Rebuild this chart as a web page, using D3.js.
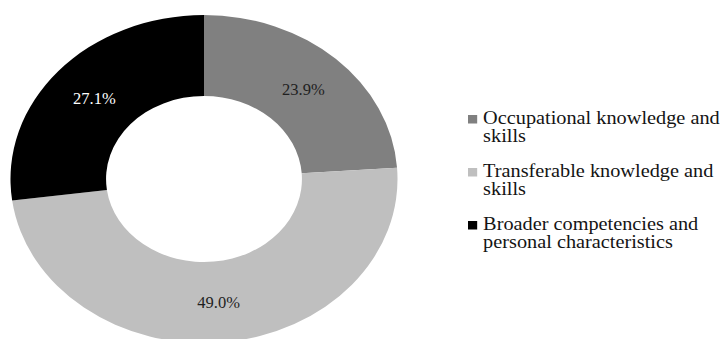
<!DOCTYPE html>
<html>
<head>
<meta charset="utf-8">
<script src="https://cdn.jsdelivr.net/npm/d3@7"></script>
<style>
  body { margin: 0; background: #fff; }
  text { font-family: "Liberation Serif", "Times New Roman", serif; }
</style>
</head>
<body>
<div class="content"></div>
<script>
const categories = ["Occupational knowledge and skills", "Transferable knowledge and skills", "Broader competencies and personal characteristics"];
const legendLines = [["Occupational knowledge and", "skills"], ["Transferable knowledge and", "skills"], ["Broader competencies and", "personal characteristics"]];
const values = [23.9, 49.0, 27.1];

const width = 725, height = 339;
const stretch = 1.18; // the source picture is wider than tall
const outerR = 164, innerR = 83;
const cx = 204, cy = 179;

const svg = d3.select('.content')
    .append('svg')
    .attr('width', width)
    .attr('height', height);

const color = d3.scaleOrdinal()
    .domain(categories)
    .range(["#808080", "#bfbfbf", "#000000"]);

const labelColor = d3.scaleOrdinal()
    .domain(categories)
    .range(["#1f1f1f", "#1f1f1f", "#ffffff"]);

const data = categories.map((c, i) => ({ cat: c, value: values[i], lines: legendLines[i] }));

const pie = d3.pie().sort(null).value(d => d.value);
const arc = d3.arc().innerRadius(innerR).outerRadius(outerR);

const donut = svg.append("g")
    .attr("transform", `translate(${cx},${cy}) scale(${stretch},1)`);

donut.selectAll(".slice")
    .data(pie(data))
    .enter().append("path")
    .attr("class", "slice")
    .attr("d", arc)
    .attr("fill", d => color(d.data.cat));

// labels outside the stretched group so the text keeps its own width
svg.selectAll(".lbl")
    .data(pie(data))
    .enter().append("text")
    .attr("class", "lbl")
    .attr("x", d => cx + arc.centroid(d)[0] * stretch)
    .attr("y", d => cy + arc.centroid(d)[1])
    .attr("dy", "0.38em")
    .attr("text-anchor", "middle")
    .attr("font-size", 16.5)
    .attr("fill", d => labelColor(d.data.cat))
    .text(d => d.data.value.toFixed(1) + "%");

// legend
const legStretch = 1.08;
const legend = svg.append("g")
    .attr("transform", `translate(468,0) scale(${legStretch},1)`);

const item = legend.selectAll(".item")
    .data(data)
    .enter().append("g")
    .attr("class", "item")
    .attr("transform", (d, i) => `translate(0,${124 + i * 53})`);

item.append("rect")
    .attr("x", 0)
    .attr("y", -9)
    .attr("width", 8.5)
    .attr("height", 8.5)
    .attr("fill", d => color(d.cat));

item.append("text")
    .attr("font-size", 18.8)
    .attr("fill", "#141414")
    .selectAll("tspan")
    .data(d => d.lines)
    .enter().append("tspan")
    .attr("x", 14)
    .attr("y", (d, i) => i * 18.5)
    .text(d => d);
</script>
</body>
</html>
